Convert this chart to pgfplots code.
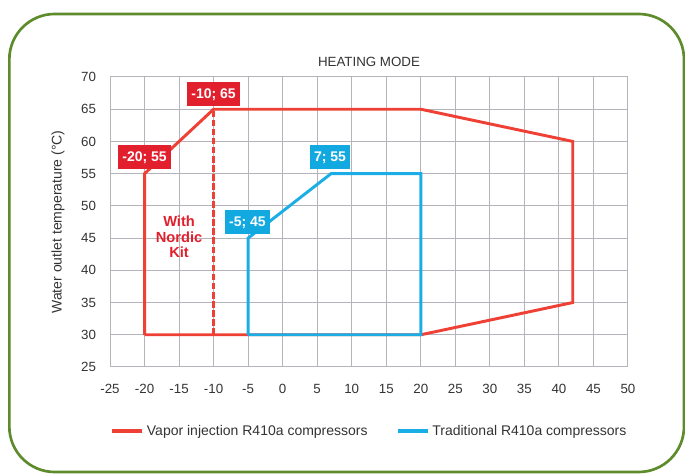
\documentclass[border=0pt]{standalone}
\usepackage{fontspec}
\setmainfont{Liberation Sans}
\usepackage{pgfplots}
\pgfplotsset{compat=1.18}
\definecolor{vired}{HTML}{EE4035}
\definecolor{boxred}{HTML}{E21F2D}
\definecolor{tblue}{HTML}{1BADE5}
\definecolor{boxblue}{HTML}{12A9E1}
\definecolor{gridgray}{HTML}{B4B4BA}
\definecolor{framegreen}{HTML}{5E8B2C}
\definecolor{txt}{HTML}{333333}
\begin{document}
\begin{tikzpicture}
\path[use as bounding box] (0,0) rectangle (513.75pt,355.5pt);
\draw[framegreen, line width=2pt, rounded corners=34pt] (7pt,1.5pt) rectangle (513pt,345pt);
\begin{axis}[
 at={(82.5pt,80.25pt)}, anchor=south west,
 scale only axis, width=388.5pt, height=217.5pt,
 xmin=-25, xmax=50, ymin=25, ymax=70,
 xtick distance=5, ytick distance=5,
 grid=major, major grid style={gridgray, line width=0.75pt},
 axis line style={gridgray, line width=0.75pt},
 tick style={draw=none}, major tick length=0pt,
 /pgf/number format/assume math mode=true,
 ticklabel style={font=\fontsize{10}{12}\selectfont, text=txt},
 xticklabel style={yshift=-9.5pt},
 yticklabel style={xshift=-7pt},
 ylabel={Water outlet temperature (°C)},
 ylabel style={at={(axis description cs:-0.1004,0.5)}, anchor=center, font=\fontsize{10.5}{12}\selectfont, text=txt},
 title={HEATING MODE},
 title style={font=\fontsize{10}{12}\selectfont, text=txt, yshift=-1.9pt},
 legend columns=2,
 legend style={at={(axis description cs:0,-0.2207)}, anchor=west, draw=none, fill=none, inner xsep=0pt, font=\fontsize{10.5}{12}\selectfont, text=txt, /tikz/every even column/.append style={column sep=19pt}},
 legend image code/.code={\draw[#1, line width=3pt] (0pt,0pt) -- (22.5pt,0pt);},
 clip=false,
]
\addplot[vired, line width=2.2pt] coordinates {(-20,30) (-20,55) (-10,65) (20,65) (42,60) (42,35) (20,30) (-20,30)};
\addlegendentry{Vapor injection R410a compressors}
\addplot[vired, line width=1.7pt, dash pattern=on 5pt off 1.8pt, forget plot] coordinates {(-10,30) (-10,65)};
\addplot[tblue, line width=2.2pt] coordinates {(-5,30) (-5,45) (7,55) (20,55) (20,30) (-5,30)};
\addlegendentry{Traditional R410a compressors}
\tikzset{lab/.style={text=white, font=\fontsize{10.5}{12}\selectfont\bfseries, inner xsep=3.2pt, minimum height=18pt, text height=7.5pt, text depth=0pt}}
\node[lab, fill=boxred] at (axis cs:-10,67.4) {-10; 65};
\node[lab, fill=boxred] at (axis cs:-20,57.6) {-20; 55};
\node[lab, fill=boxblue] at (axis cs:6.85,57.6) {7; 55};
\node[lab, fill=boxblue] at (axis cs:-5.1,47.5) {-5; 45};
\node[text=boxred, font=\fontsize{11}{11.6}\selectfont\bfseries, align=center, inner sep=0pt] at (axis cs:-15,45.2) {With\\Nordic\\Kit};
\end{axis}
\end{tikzpicture}
\end{document}
